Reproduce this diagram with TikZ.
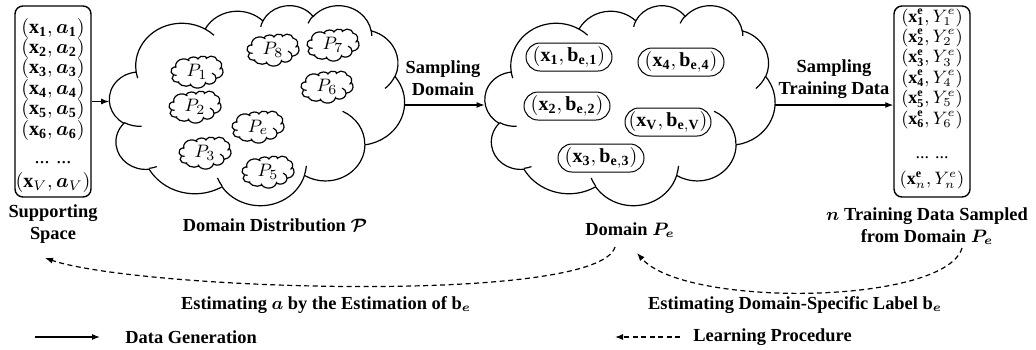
\documentclass[tikz,border=0pt]{standalone}
\usepackage{fontspec}
\setmainfont{Liberation Serif}
\usepackage{amsmath,bm}
\usetikzlibrary{arrows.meta}

\tikzset{
  caja/.style={draw, rounded corners=4pt, line width=0.7pt, minimum width=38pt, minimum height=95.5pt, inner sep=0pt},
  pastilla/.style={draw, rounded corners=7pt, line width=0.5pt, minimum width=43pt, minimum height=14pt, inner sep=1pt, font=\fontsize{10}{12}\selectfont},
  nube/.style={line width=0.6pt},
  marco/.style={minimum width=#1, inner sep=0pt},
  etiqueta/.style={font=\fontsize{9.2}{11}\selectfont\bfseries, align=center, inner sep=0pt},
  filas/.style={font=\fontsize{#1}{10.2}\selectfont, align=center, inner sep=0pt},
  fila/.style={font=\fontsize{10}{12}\selectfont, inner sep=0pt},
  gen/.style={-{Latex[length=4pt,width=3pt]}, line width=0.6pt},
  aprende/.style={-{Latex[length=4pt,width=3pt]}, line width=0.6pt, dash pattern=on 2.5pt off 1.75pt},
}

% nube tipo Office: centro x, centro y, ancho, alto (medidas en miles, caja de 43.2)
\newcommand{\nube}[4]{%
  \begin{scope}[shift={(#1,#2)}, xscale={#3/100}, yscale={#4/100}, shift={(-50,-50)}]
    \draw[nube, fill=white] (3.900*2.31481,14.370*2.31481)
      \foreach \rw/\rh/\sa/\sw in {6.753/9.190/-190.4875/123.7805, 5.333/7.267/-144.1024/89.9452,
        4.365/5.945/-145.8079/99.7230, 4.857/6.595/-130.9861/117.2417, 5.333/7.273/-78.7089/109.0269,
        6.775/9.220/-46.2673/130.2690, 5.785/7.867/0.6250/114.0333, 6.752/9.215/22.4516/115.1726,
        7.720/10.543/66.2426/75.7110, 4.360/5.918/-274.9421/146.7356, 4.345/5.945/-246.8285/152.5189}
      { arc[start angle={atan2(\rw*sin(\sa),\rh*cos(\sa))},
            delta angle={mod(atan2(\rw*sin(\sa+\sw),\rh*cos(\sa+\sw))-atan2(\rw*sin(\sa),\rh*cos(\sa))+720,360)},
            x radius={\rw*2.31481}, y radius={\rh*2.31481}] } -- cycle;
    \draw[nube]
      \foreach \px/\py/\rw/\rh/\sa/\sw in {4.693/26.177/4.345/5.945/86.7420/26.4295,
        6.928/34.899/4.360/5.918/73.6105/11.4475, 16.478/39.090/6.752/9.215/137.6242/14.0811,
        28.827/34.751/6.752/9.215/6.4533/15.9984, 34.129/22.954/5.785/7.867/-70.2924/70.9174,
        41.798/15.354/5.333/7.273/30.3180/27.7515, 38.324/5.426/4.857/6.595/-13.7443/14.8589,
        29.078/3.952/4.857/6.595/-149.1815/18.1954, 22.141/4.720/4.365/5.945/-163.4943/17.6864,
        14.000/5.192/6.753/9.190/-66.7070/12.3194, 4.127/15.789/6.753/9.190/157.6544/11.8582}
      { (\px*2.31481,\py*2.31481) arc[start angle={atan2(\rw*sin(\sa),\rh*cos(\sa))},
            delta angle={mod(atan2(\rw*sin(\sa+\sw),\rh*cos(\sa+\sw))-atan2(\rw*sin(\sa),\rh*cos(\sa))+720,360)},
            x radius={\rw*2.31481}, y radius={\rh*2.31481}] };
  \end{scope}}

\begin{document}
\begin{tikzpicture}[x=0.5pt, y=-0.5pt]
  \useasboundingbox (0,0) rectangle (1036,349);

  % Espacio soporte
  \node[caja] (sop) at (53,101.5) {};
  \node[filas=10] (sopt) at (53,105.5) {\lineskiplimit=-100pt\relax
    $(\mathbf{x}_{\mathbf{1}},\bm{a}_{\mathbf{1}})$\\ $(\mathbf{x}_{\mathbf{2}},\bm{a}_{\mathbf{2}})$\\
    $(\mathbf{x}_{\mathbf{3}},\bm{a}_{\mathbf{3}})$\\ $(\mathbf{x}_{\mathbf{4}},\bm{a}_{\mathbf{4}})$\\
    $(\mathbf{x}_{\mathbf{5}},\bm{a}_{\mathbf{5}})$\\ $(\mathbf{x}_{\mathbf{6}},\bm{a}_{\mathbf{6}})$\\[4pt]
    ... ...\\[2pt]
    $(\mathbf{x}_{V},\bm{a}_{V})$};
  \node[etiqueta] (lsop) at (53,224) {Supporting\\Space};

  % Distribucion de dominios
  \node[marco=147.5pt, minimum height=100pt] (dist) at (257,105) {};
  \nube{257}{105}{295}{200}
  \foreach \n/\xx/\yy in {1/197/72, 2/195/107, 3/205/153, e/258/127, 5/268/172, 8/273/50, 7/333/45, 6/327/87}{
    \nube{\xx}{\yy}{52}{32}
    \node[fila, font=\fontsize{9.5}{11}\selectfont] (p\n) at (\xx,\yy) {$P_{\n}$};
  }
  \node[etiqueta] (ldist) at (275,225) {Domain Distribution $\bm{\mathcal{P}}$};

  % Dominio P_e
  \node[marco=145pt, minimum height=100pt] (dom) at (630,105) {};
  \nube{630}{105}{290}{200}
  \node[pastilla] (b1) at (569,57) {$(\mathbf{x}_{\mathbf{1}},\mathbf{b}_{\mathbf{e,1}})$};
  \node[pastilla] (b4) at (681,62) {$(\mathbf{x}_{\mathbf{4}},\mathbf{b}_{\mathbf{e,4}})$};
  \node[pastilla] (b2) at (567,106) {$(\mathbf{x}_{\mathbf{2}},\mathbf{b}_{\mathbf{e,2}})$};
  \node[pastilla] (bV) at (668,122) {$(\mathbf{x}_{\mathbf{V}},\mathbf{b}_{\mathbf{e,V}})$};
  \node[pastilla] (b3) at (601,158) {$(\mathbf{x}_{\mathbf{3}},\mathbf{b}_{\mathbf{e,3}})$};
  \node[etiqueta] (ldom) at (630,230) {Domain $\bm{P_e}$};

  % Datos de entrenamiento
  \node[caja] (tr) at (932,101.5) {};
  \node[filas=9] (trt) at (932,99) {\lineskiplimit=-100pt\relax
    $(\mathbf{x}^{\mathbf{e}}_{\mathbf{1}},Y^{e}_{1})$\\ $(\mathbf{x}^{\mathbf{e}}_{\mathbf{2}},Y^{e}_{2})$\\
    $(\mathbf{x}^{\mathbf{e}}_{\mathbf{3}},Y^{e}_{3})$\\ $(\mathbf{x}^{\mathbf{e}}_{\mathbf{4}},Y^{e}_{4})$\\
    $(\mathbf{x}^{\mathbf{e}}_{\mathbf{5}},Y^{e}_{5})$\\ $(\mathbf{x}^{\mathbf{e}}_{\mathbf{6}},Y^{e}_{6})$\\[7pt]
    ... ...\\[3pt]
    $(\mathbf{x}^{\mathbf{e}}_{n},Y^{e}_{n})$};
  \node[etiqueta] (ltr) at (927,226) {$\bm{n}$ Training Data Sampled\\from Domain $\bm{P_e}$};

  % Flechas de generacion
  \draw[gen] (sop.east) -- (sop.east -| dist.west);
  \draw[gen] (dist.east) -- (dom.west);
  \node[etiqueta] (m1) at (443,78) {Sampling\\Domain};
  \draw[gen] (dom.east) -- (dom.east -| tr.west);
  \node[etiqueta] (m2) at (834,79) {Sampling\\Training Data};

  % Flechas de aprendizaje
  \coordinate (c1a) at (615,247);
  \coordinate (c1b) at (45,258);
  \draw[aprende] (c1a) .. controls (598,305) and (140,290) .. (c1b);
  \node[etiqueta] (est1) at (326,305) {Estimating $\bm{a}$ by the Estimation of $\mathbf{b}_{\bm{e}}$};
  \coordinate (c2a) at (962,248);
  \coordinate (c2b) at (637,253);
  \draw[aprende] (c2a) .. controls (945,305) and (685,308) .. (c2b);
  \node[etiqueta] (est2) at (795,305) {Estimating Domain-Specific Label $\mathbf{b}_{\bm{e}}$};

  % Leyenda
  \coordinate (g1) at (35,337);
  \coordinate (g2) at (100,337);
  \draw[gen] (g1) -- (g2);
  \node[etiqueta, anchor=west] (lgen) at (125,337) {Data Generation};
  \coordinate (a1) at (680,337);
  \coordinate (a2) at (615,337);
  \draw[aprende] (a1) -- (a2);
  \node[etiqueta, anchor=west] (lapr) at (693,337) {Learning Procedure};

\end{tikzpicture}
\end{document}
